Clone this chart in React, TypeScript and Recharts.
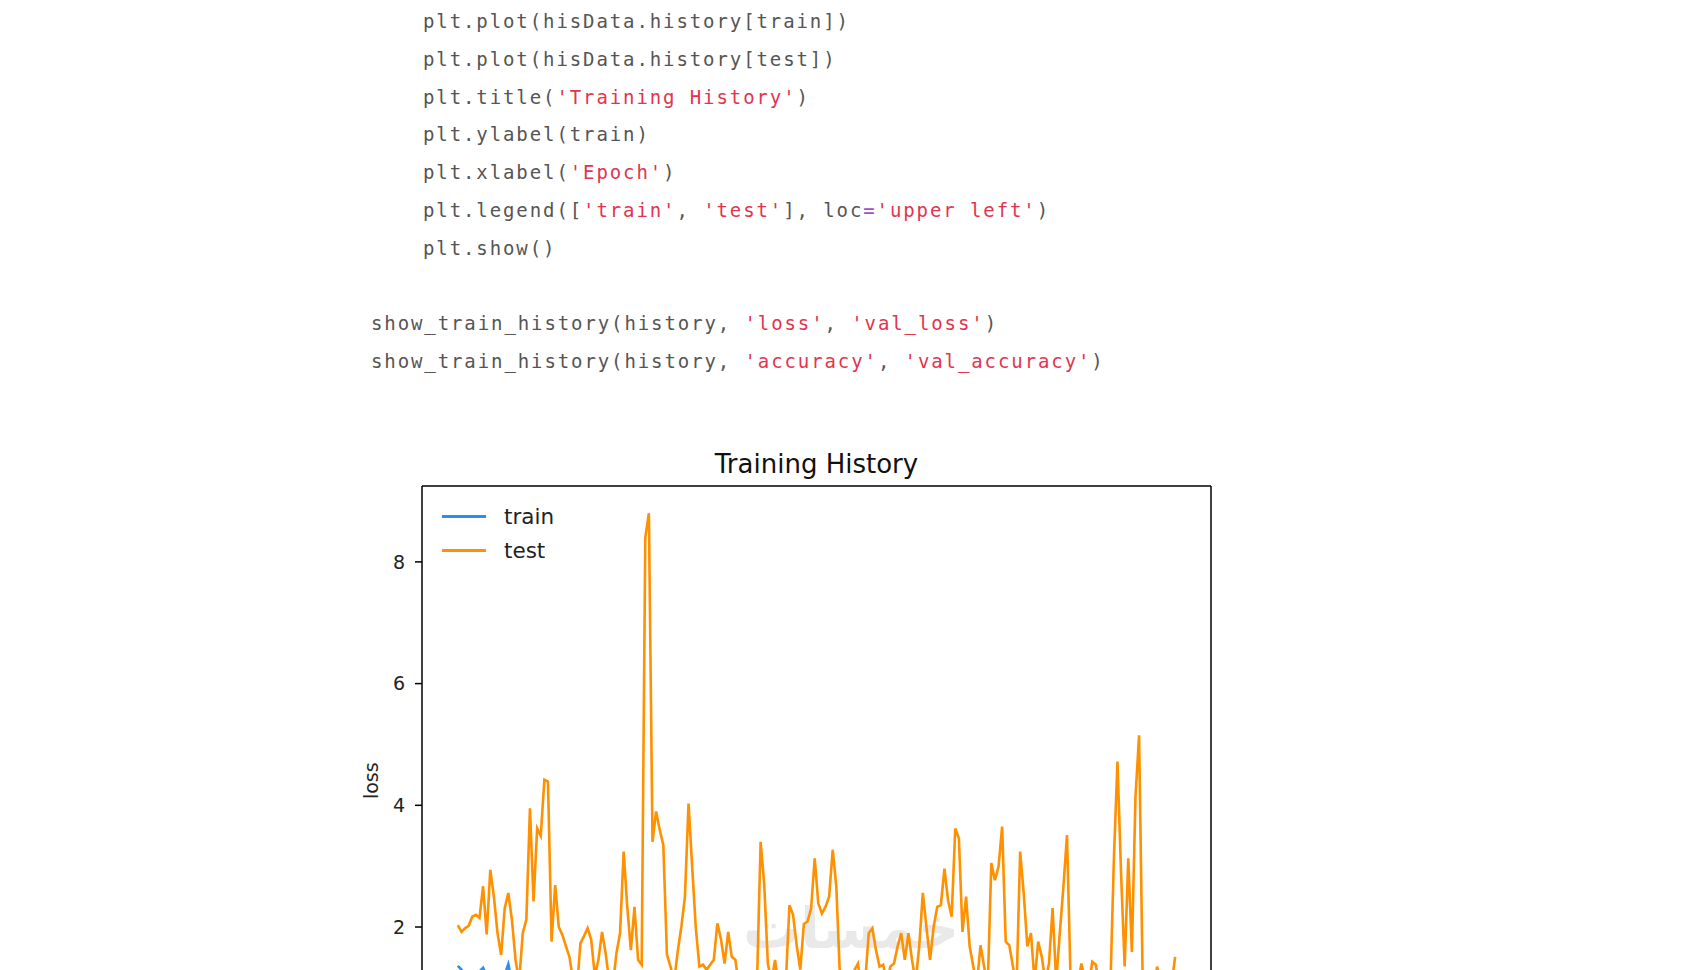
import { LineChart, Line, XAxis, YAxis, Legend, ReferenceLine } from "recharts";

// epochs 0..199
const epochs = Array.from({ length: 200 }, (_, i) => i);

// train loss (blue) - mostly below the visible area
const trainLoss = [
  1.36, 1.3, 1.22, 1.18, 1.12, 1.2, 1.27, 1.33, 1.2, 1.1,
  1.04, 0.98, 1.08, 1.22, 1.39, 1.1, 0.92, 0.95, 0.88, 0.9,
  0.84, 0.86, 0.8, 0.82, 0.77, 0.79, 0.74, 0.76, 0.72, 0.7,
  0.73, 0.68, 0.69, 0.66, 0.67, 0.64, 0.65, 0.62, 0.63, 0.6,
  0.61, 0.59, 0.6, 0.57, 0.58, 0.56, 0.57, 0.55, 0.56, 0.54,
  0.55, 0.53, 0.54, 0.52, 0.53, 0.51, 0.52, 0.5, 0.51, 0.49,
  0.5, 0.48, 0.49, 0.47, 0.48, 0.46, 0.47, 0.45, 0.46, 0.45,
  0.44, 0.45, 0.43, 0.44, 0.42, 0.43, 0.41, 0.42, 0.41, 0.4,
  0.41, 0.39, 0.4, 0.38, 0.39, 0.38, 0.37, 0.38, 0.36, 0.37,
  0.36, 0.35, 0.36, 0.34, 0.35, 0.34, 0.33, 0.34, 0.33, 0.32,
  0.33, 0.31, 0.32, 0.31, 0.3, 0.31, 0.3, 0.29, 0.3, 0.29,
  0.28, 0.29, 0.28, 0.27, 0.28, 0.27, 0.26, 0.27, 0.26, 0.25,
  0.26, 0.25, 0.24, 0.25, 0.24, 0.23, 0.24, 0.23, 0.22, 0.23,
  0.22, 0.21, 0.22, 0.21, 0.2, 0.21, 0.2, 0.19, 0.2, 0.19,
  0.18, 0.19, 0.18, 0.17, 0.18, 0.17, 0.16, 0.17, 0.16, 0.15,
  0.16, 0.15, 0.14, 0.15, 0.14, 0.13, 0.14, 0.13, 0.12, 0.13,
  0.12, 0.11, 0.12, 0.11, 0.1, 0.11, 0.1, 0.09, 0.1, 0.09,
  0.08, 0.09, 0.08, 0.07, 0.08, 0.07, 0.06, 0.07, 0.06, 0.05,
  0.06, 0.05, 0.04, 0.05, 0.04, 0.03, 0.04, 0.03, 0.02, 0.03,
  0.02, 0.01, 0.02, 0.01, 0.0, 0.01, 0.0, 0.01, 0.0, 0.0,
];

// test loss (orange)
const testLoss = [
  2.03, 1.92, 1.98, 2.02, 2.17, 2.2, 2.15, 2.67, 1.88, 2.94,
  2.5, 1.9, 1.54, 2.31, 2.56, 2.12, 1.46, 1.1, 1.9, 2.12,
  3.95, 2.42, 3.62, 3.5, 4.42, 4.39, 1.76, 2.69, 2.0, 1.87,
  1.68, 1.5, 1.1, 0.95, 1.73, 1.85, 1.98, 1.79, 1.2, 1.46,
  1.92, 1.57, 1.1, 1.05, 1.57, 1.9, 3.24, 2.33, 1.62, 2.33,
  1.46, 1.38, 8.4, 8.8, 3.4, 3.9, 3.6, 3.35, 1.55, 1.35,
  1.1, 1.6, 2.0, 2.5, 4.03, 3.0, 2.0, 1.35, 1.38, 1.3,
  1.38, 1.46, 2.06, 1.8, 1.4, 1.92, 1.51, 1.46, 1.0, 0.9,
  1.05, 0.95, 1.1, 1.1, 3.4, 2.7, 1.4, 1.1, 1.46, 1.0,
  0.9, 1.1, 2.36, 2.2, 1.7, 1.3, 2.05, 2.09, 2.3, 3.13,
  2.39, 2.22, 2.33, 2.5, 3.27, 2.66, 1.2, 1.0, 0.9, 1.1,
  1.29, 1.4, 1.0, 1.1, 1.9, 1.98, 1.62, 1.35, 1.38, 1.1,
  1.35, 1.4, 1.68, 1.9, 1.46, 1.9, 1.46, 1.1, 1.68, 2.56,
  2.0, 1.46, 2.0, 2.33, 2.36, 2.96, 2.44, 2.17, 3.62, 3.46,
  1.92, 2.5, 1.68, 1.35, 1.05, 1.7, 1.35, 1.0, 3.05, 2.77,
  2.99, 3.65, 1.76, 1.7, 1.35, 1.0, 3.24, 2.55, 1.68, 1.9,
  1.1, 1.76, 1.51, 1.1, 1.4, 2.31, 1.1, 1.9, 2.66, 3.51,
  1.1, 0.95, 1.05, 1.4, 1.1, 1.0, 1.43, 1.38, 1.0, 0.9,
  1.05, 0.95, 3.1, 4.72, 2.88, 1.35, 3.13, 1.59, 4.14, 5.15,
  1.1, 0.95, 1.0, 0.9, 1.35, 1.1, 1.0, 0.95, 1.05, 1.51,
];

// only the ticks that fall inside the visible part of the figure
const yTicks = [2, 4, 6, 8];
const xDomain = [-9.95, 208.95];
const yDomain = [-0.44, 9.247];
const seriesNames = ["train", "test"];
const seriesColors = ["#2a8ff0", "#ff9000"];

// notebook code above the plot: [text, kind]
const codeLines: { indent: boolean; parts: [string, string][] }[] = [
  { indent: true, parts: [["plt.plot(hisData.history[train])", "code"]] },
  { indent: true, parts: [["plt.plot(hisData.history[test])", "code"]] },
  { indent: true, parts: [["plt.title(", "code"], ["'Training History'", "str"], [")", "code"]] },
  { indent: true, parts: [["plt.ylabel(train)", "code"]] },
  { indent: true, parts: [["plt.xlabel(", "code"], ["'Epoch'", "str"], [")", "code"]] },
  {
    indent: true,
    parts: [
      ["plt.legend([", "code"], ["'train'", "str"], [", ", "code"], ["'test'", "str"],
      ["], loc", "code"], ["=", "op"], ["'upper left'", "str"], [")", "code"],
    ],
  },
  { indent: true, parts: [["plt.show()", "code"]] },
  { indent: false, parts: [] },
  { indent: false, parts: [["show_train_history(history, ", "code"], ["'loss'", "str"], [", ", "code"], ["'val_loss'", "str"], [")", "code"]] },
  { indent: false, parts: [["show_train_history(history, ", "code"], ["'accuracy'", "str"], [", ", "code"], ["'val_accuracy'", "str"], [")", "code"]] },
];

const CODE_COLORS: Record<string, string> = { code: "#555", str: "#e3344f", op: "#a24fc4" };

const rows = epochs.map((e, i) => ({ epoch: e, train: trainLoss[i], test: testLoss[i] }));

const FONT = "'DejaVu Sans', sans-serif";

// eslint-disable-next-line @typescript-eslint/no-explicit-any
const renderLegend = (props: any) => {
  // keep plot order (train, test) instead of alphabetical
  const payload = [...(props.payload || [])].sort(
    (a: any, b: any) => seriesNames.indexOf(a.value) - seriesNames.indexOf(b.value)
  );
  return (
    <div style={{ fontFamily: FONT, fontSize: 21.5, color: "#222" }}>
      {payload.map((entry: any) => (
        <div key={entry.value} style={{ display: "flex", alignItems: "center", height: 34 }}>
          <div style={{ width: 44, height: 3, background: entry.color, marginRight: 18 }} />
          <span>{entry.value}</span>
        </div>
      ))}
    </div>
  );
};

export default function App() {
  return (
    <div style={{ position: "relative", width: 1700, height: 970, overflow: "hidden", background: "#fff" }}>
      <style>{"body{margin:0}"}</style>

      {/* code cell */}
      {codeLines.map((line, i) => (
        <div
          key={i}
          style={{
            position: "absolute",
            left: line.indent ? 423 : 371,
            top: i < 7 ? 9 + i * 37.8 : 311 + (i - 8) * 38,
            fontFamily: "'DejaVu Sans Mono', monospace",
            fontSize: 19,
            lineHeight: "24px",
            letterSpacing: 1.9,
            whiteSpace: "pre",
          }}>
          {line.parts.map(([t, k], j) => (
            <span key={j} style={{ color: CODE_COLORS[k] }}>
              {t}
            </span>
          ))}
        </div>
      ))}

      {/* watermark */}
      <div
        style={{
          position: "absolute",
          left: 740,
          top: 888,
          width: 222,
          textAlign: "center",
          fontFamily: FONT,
          fontWeight: "bold",
          fontSize: 57,
          lineHeight: "80px",
          color: "#e9e9e9",
          direction: "rtl",
        }}>
        خمسات
      </div>

      {/* title */}
      <div
        style={{
          position: "absolute",
          left: 422,
          top: 448,
          width: 789,
          textAlign: "center",
          fontFamily: FONT,
          fontSize: 26,
          lineHeight: "32px",
          color: "#111",
        }}>
        Training History
      </div>

      <div style={{ position: "absolute", left: 0, top: 0 }}>
        <LineChart
          width={1700}
          height={1160}
          data={rows}
          margin={{ top: 486, right: 489, left: 352, bottom: 44.5 }}
          style={{ fontFamily: FONT }}>
          <XAxis
            dataKey="epoch"
            type="number"
            domain={xDomain}
            allowDataOverflow
            height={40}
            stroke="#000"
            strokeWidth={1.5}
            tick={false}
            tickLine={false}
          />
          <YAxis
            type="number"
            domain={yDomain}
            allowDataOverflow
            ticks={yTicks}
            width={70}
            stroke="#000"
            strokeWidth={1.5}
            tickSize={7}
            tickMargin={10}
            tick={{ fontSize: 19, fill: "#222" }}
            label={({ viewBox }: any) => (
              <text
                x={viewBox.x + 19}
                y={viewBox.y + viewBox.height / 2}
                transform={`rotate(-90, ${viewBox.x + 19}, ${viewBox.y + viewBox.height / 2})`}
                textAnchor="middle"
                dominantBaseline="central"
                fontSize={19}
                fill="#222">
                loss
              </text>
            )}
          />
          {/* top and right spines of the axes box */}
          <ReferenceLine y={yDomain[1]} stroke="#000" strokeWidth={1.5} />
          <ReferenceLine x={xDomain[1]} stroke="#000" strokeWidth={1.5} />
          <Legend
            content={renderLegend}
            layout="horizontal"
            verticalAlign="middle"
            wrapperStyle={{ position: "absolute", top: 499, left: 442, width: "auto", height: "auto" }}
          />
          <Line
            dataKey="train"
            name={seriesNames[0]}
            stroke={seriesColors[0]}
            strokeWidth={2.6}
            dot={false}
            isAnimationActive={false}
          />
          <Line
            dataKey="test"
            name={seriesNames[1]}
            stroke={seriesColors[1]}
            strokeWidth={2.6}
            dot={false}
            isAnimationActive={false}
          />
        </LineChart>
      </div>
    </div>
  );
}
